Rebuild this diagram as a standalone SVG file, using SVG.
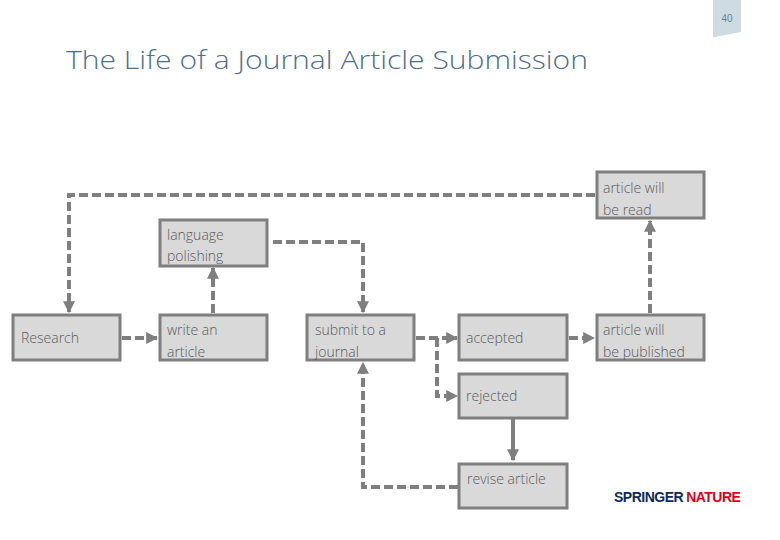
<svg xmlns="http://www.w3.org/2000/svg" width="780" height="540" viewBox="0 0 780 540">
<style>
.box{fill:#d9d9d9;stroke:#7f7f7f;stroke-width:3}
.t{font-family:"Open Sans","Liberation Sans",sans-serif;font-size:14px;fill:#595959;font-weight:300}
.c{fill:none;stroke:#7f7f7f;stroke-width:4;stroke-dasharray:9,4}
.s{fill:none;stroke:#7f7f7f;stroke-width:4}
</style>
<defs><marker id="a" viewBox="0 0 10 10" refX="9" refY="5" markerWidth="3" markerHeight="3" orient="auto" markerUnits="strokeWidth"><path d="M0,0L10,5L0,10z" fill="#7f7f7f"/></marker></defs>
<rect width="780" height="540" fill="#fff"/>
<path d="M713,0H741V32L715,37H713z" fill="#cfdbe3"/>
<text x="727" y="22" text-anchor="middle" font-family="Liberation Sans,sans-serif" font-size="10" fill="#6a8196">40</text>
<text x="66" y="69" font-family="Open Sans,Liberation Sans,sans-serif" font-size="26" font-weight="300" fill="#4f6f8c" textLength="522" lengthAdjust="spacingAndGlyphs">The Life of a Journal Article Submission</text>
<g id="connectors">
<path class="c" d="M122,338H157" marker-end="url(#a)"/>
<path class="c" d="M213,313V268" marker-end="url(#a)"/>
<path class="c" d="M273,242H363V312" marker-end="url(#a)"/>
<path class="c" d="M416,338H457" marker-end="url(#a)"/>
<path class="c" d="M437,338V396H457" marker-end="url(#a)"/>
<path class="c" d="M569,338H594" marker-end="url(#a)"/>
<path class="s" d="M513,419V460" marker-end="url(#a)"/>
<path class="c" d="M458,487H363V363" marker-end="url(#a)"/>
<path class="c" d="M650,313V221" marker-end="url(#a)"/>
<path class="c" d="M595,195H69V312" marker-end="url(#a)"/>
</g>
<g id="research"><rect class="box" x="13" y="315" width="107" height="45"/><text class="t" x="21" y="343">Research</text></g>
<g id="write"><rect class="box" x="160" y="315" width="107" height="45"/><text class="t" x="167" y="335">write an</text><text class="t" x="167" y="357">article</text></g>
<g id="language"><rect class="box" x="160" y="220" width="107" height="46"/><text class="t" x="167" y="240">language</text><text class="t" x="167" y="261">polishing</text></g>
<g id="submit"><rect class="box" x="307" y="315" width="107" height="45"/><text class="t" x="315" y="335">submit to a</text><text class="t" x="315" y="357">journal</text></g>
<g id="accepted"><rect class="box" x="459" y="315" width="108" height="45"/><text class="t" x="466" y="343">accepted</text></g>
<g id="rejected"><rect class="box" x="459" y="374" width="108" height="44"/><text class="t" x="466" y="401">rejected</text></g>
<g id="revise"><rect class="box" x="459" y="464" width="108" height="44"/><text class="t" x="467" y="484">revise article</text></g>
<g id="published"><rect class="box" x="597" y="315" width="107" height="45"/><text class="t" x="603" y="335">article will</text><text class="t" x="603" y="357">be published</text></g>
<g id="read"><rect class="box" x="597" y="172" width="107" height="46"/><text class="t" x="603" y="193">article will</text><text class="t" x="603" y="215">be read</text></g>
<text x="614" y="502" font-family="Liberation Sans,sans-serif" font-size="14" font-weight="bold" letter-spacing="-0.5"><tspan fill="#0d2a5c">SPRINGER</tspan><tspan fill="#e2001a" dx="3">NATURE</tspan></text>
</svg>
